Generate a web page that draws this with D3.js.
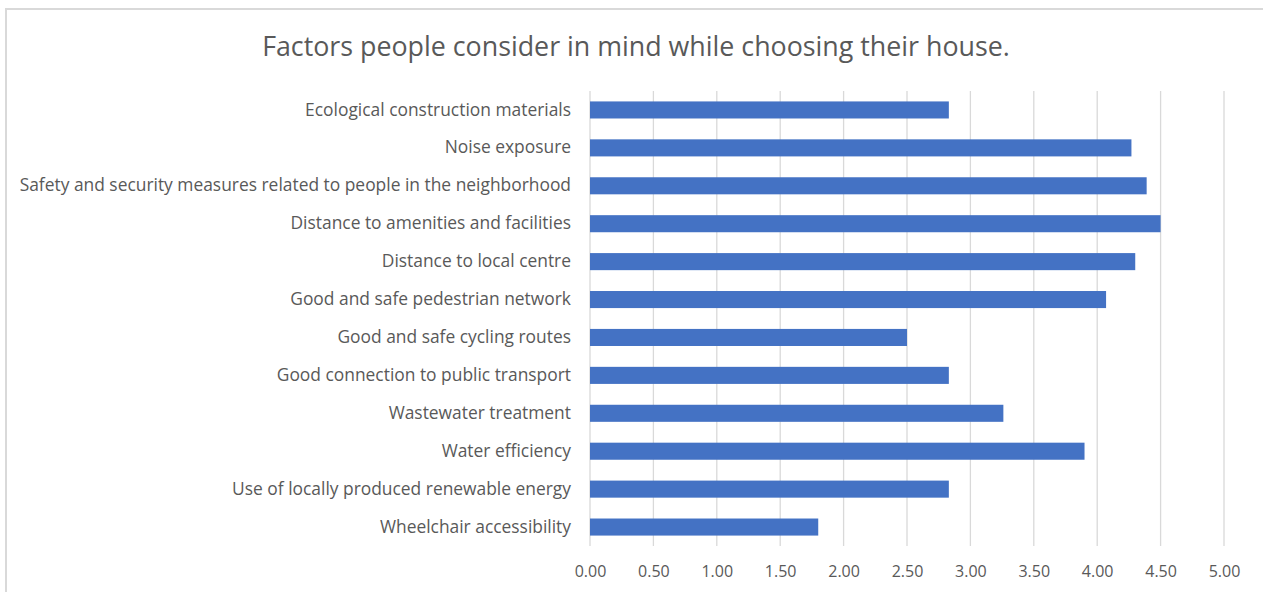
<!DOCTYPE html>
<html>
<head>
<meta charset="utf-8">
<script src="https://cdn.jsdelivr.net/npm/d3@7"></script>
<style>
    body { margin: 0; background: #fff; }
    text { font-family: "Open Sans", Lato, sans-serif; fill: #595959; }
</style>
</head>
<body>
<script>
const categories = [
    'Ecological construction materials',
    'Noise exposure',
    'Safety and security measures related to people in the neighborhood',
    'Distance to amenities and facilities',
    'Distance to local centre',
    'Good and safe pedestrian network',
    'Good and safe cycling routes',
    'Good connection to public transport',
    'Wastewater treatment',
    'Water efficiency',
    'Use of locally produced renewable energy',
    'Wheelchair accessibility'
];
const values = [2.83, 4.27, 4.39, 4.50, 4.30, 4.07, 2.50, 2.83, 3.26, 3.90, 2.83, 1.80];
const xTicks = [0, 0.5, 1, 1.5, 2, 2.5, 3, 3.5, 4, 4.5, 5];
const title = 'Factors people consider in mind while choosing their house.';

function draw() {
    const width = 1263;
    const height = 592;
    const margin = { top: 91, right: 39, bottom: 46, left: 590 };
    const innerW = width - margin.left - margin.right;
    const innerH = height - margin.top - margin.bottom;

    const svg = d3.select('body')
        .append('svg')
        .attr('width', width)
        .attr('height', height);

    // chart frame
    svg.append('rect')
        .attr('x', 6)
        .attr('y', 9)
        .attr('width', width + 10)
        .attr('height', height + 10)
        .attr('fill', 'none')
        .attr('stroke', '#d9d9d9')
        .attr('stroke-width', 2);

    svg.append('text')
        .attr('x', 636)
        .attr('y', 56)
        .attr('text-anchor', 'middle')
        .style('font-size', '26.8px')
        .text(title);

    const x = d3.scaleLinear().domain([0, 5]).range([0, innerW]);
    const y = d3.scaleBand().domain(categories).range([0, innerH]).paddingInner(0.55).paddingOuter(0.275);

    const main = svg.append('g')
        .attr('transform', 'translate(' + margin.left + ',' + margin.top + ')');

    // vertical gridlines
    main.append('g')
        .selectAll('line')
        .data(xTicks)
        .enter()
        .append('line')
        .attr('x1', (d) => x(d))
        .attr('x2', (d) => x(d))
        .attr('y1', 0)
        .attr('y2', innerH)
        .attr('stroke', '#d9d9d9')
        .attr('stroke-width', 1.3);

    main.append('g')
        .selectAll('rect')
        .data(values)
        .enter()
        .append('rect')
        .attr('x', x(0))
        .attr('y', (d, i) => y(categories[i]))
        .attr('width', (d) => x(d) - x(0))
        .attr('height', y.bandwidth())
        .attr('fill', '#4472c4');

    const xAxis = d3.axisBottom(x)
        .tickValues(xTicks)
        .tickFormat(d3.format('.2f'))
        .tickSize(0)
        .tickPadding(20);
    const gx = main.append('g')
        .attr('transform', 'translate(0,' + innerH + ')')
        .call(xAxis);
    gx.select('.domain').remove();
    gx.selectAll('text').style('font-size', '16px').attr('fill', '#595959');

    const yAxis = d3.axisLeft(y).tickSize(0).tickPadding(19);
    const gy = main.append('g').call(yAxis);
    gy.select('.domain').remove();
    gy.selectAll('text').style('font-size', '17.4px').attr('fill', '#595959');
}

document.addEventListener('DOMContentLoaded', () => draw());
</script>
</body>
</html>
